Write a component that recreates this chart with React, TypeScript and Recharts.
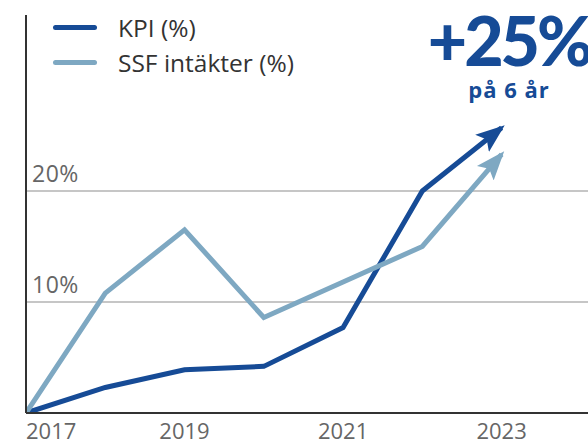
import React from 'react';
import { LineChart, Line, XAxis, YAxis, ReferenceLine } from 'recharts';

const years = [2017, 2018, 2019, 2020, 2021, 2022, 2023];
const kpiValues = [0, 2.3, 3.9, 4.2, 7.7, 20.0, 25.7];
const ssfValues = [0, 10.8, 16.5, 8.6, 11.8, 15.0, 23.3];
const xTicks = [2017, 2019, 2021, 2023];
const gridValues = [10, 20];

const series = [
  { key: 'kpi', name: 'KPI (%)', color: '#164b96' },
  { key: 'ssf', name: 'SSF intäkter (%)', color: '#7ea8c2' },
];

const data = years.map((year, i) => ({ year, kpi: kpiValues[i], ssf: ssfValues[i] }));

const FONT = '"Open Sans", Lato, sans-serif';
const HEAD_FONT = 'Lato, "Open Sans", sans-serif';

function YearTick(props: any) {
  const { x, y, payload, index } = props;
  return (
    <text
      x={x}
      y={y + 26}
      textAnchor={index === 0 ? 'start' : 'middle'}
      fill="#666"
      fontSize={22}
      fontFamily={FONT}
    >
      {payload.value}
    </text>
  );
}

export default function App() {
  return (
    <div style={{ position: 'absolute', left: 0, top: 0, width: 588, height: 442, background: '#fff', overflow: 'hidden' }}>
      <LineChart width={588} height={442} data={data} margin={{ top: 15, right: 0, left: 0, bottom: 0 }}>
        <defs>
          {series.map((s) => (
            <marker
              key={s.key}
              id={`arrow-${s.key}`}
              markerUnits="userSpaceOnUse"
              markerWidth={30}
              markerHeight={24}
              viewBox="0 0 30 24"
              refX={25}
              refY={12}
              orient="auto"
            >
              <path d="M0,1 L29,12 L0,23 L6,12 Z" fill={s.color} />
            </marker>
          ))}
        </defs>
        <XAxis
          dataKey="year"
          type="number"
          domain={[2017, 2024.09]}
          ticks={xTicks}
          allowDataOverflow
          height={29}
          tickSize={0}
          tickMargin={0}
          tickLine={false}
          axisLine={{ stroke: '#333', strokeWidth: 2 }}
          tick={<YearTick />}
        />
        <YAxis
          width={26}
          domain={[0, 35.85]}
          allowDataOverflow
          tick={false}
          tickLine={false}
          axisLine={{ stroke: '#333', strokeWidth: 2 }}
        />
        {gridValues.map((v) => (
          <ReferenceLine
            key={v}
            y={v}
            stroke="#b3b3b3"
            strokeWidth={1.5}
            label={(p: any) => (
              <text x={p.viewBox.x + 6} y={p.viewBox.y - 9} fill="#666" fontSize={23} fontFamily={FONT} letterSpacing={0.5}>
                {`${v}%`}
              </text>
            )}
          />
        ))}
        {series.map((s) => (
          <Line
            key={s.key}
            type="linear"
            dataKey={s.key}
            name={s.name}
            stroke={s.color}
            strokeWidth={5}
            dot={false}
            activeDot={false}
            markerEnd={`url(#arrow-${s.key})`}
            isAnimationActive={false}
          />
        ))}
      </LineChart>

      <div style={{ position: 'absolute', left: 53, top: 10, fontFamily: FONT }}>
        {series.map((s) => (
          <div key={s.key} style={{ display: 'flex', alignItems: 'center', height: 35 }}>
            <div style={{ width: 44, height: 5, borderRadius: 3, background: s.color }} />
            <span style={{ marginLeft: 21, fontSize: 24.5, color: '#333' }}>{s.name}</span>
          </div>
        ))}
      </div>

      <svg width={588} height={442} style={{ position: 'absolute', left: 0, top: 0, pointerEvents: 'none' }}>
        <text x={509} y={66} textAnchor="middle" fill="#164b96" fontSize={68} fontWeight={900} fontFamily={HEAD_FONT} letterSpacing={-3}>
          +25%
        </text>
        <text x={509} y={98} textAnchor="middle" fill="#164b96" fontSize={22} fontWeight={700} fontFamily={FONT} letterSpacing={1}>
          på 6 år
        </text>
      </svg>
    </div>
  );
}
